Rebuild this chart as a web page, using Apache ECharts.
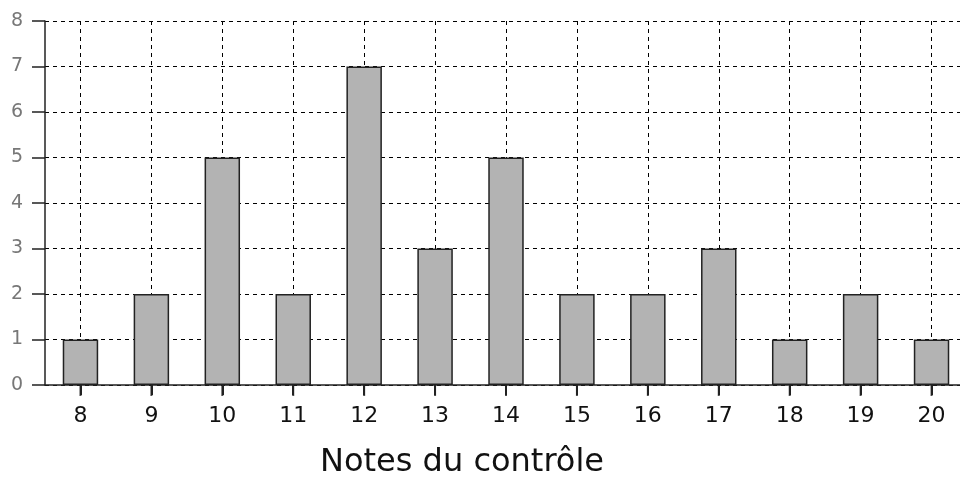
<!DOCTYPE html>
<html style="height: 100%">
<head>
    <meta charset="utf-8">
</head>
<body style="height: 100%; margin: 0; background: #fff">
    <div id="container" style="width: 960px; height: 481px"></div>
    <script type="text/javascript" src="https://cdn.jsdelivr.net/npm/echarts@6/dist/echarts.min.js"></script>
<script type="text/javascript">
    // notes du controle et effectifs
    var notes = ['8', '9', '10', '11', '12', '13', '14', '15', '16', '17', '18', '19', '20'];
    var effectifs = [1, 2, 5, 2, 7, 3, 5, 2, 2, 3, 1, 2, 1];
    var yTicks = [0, 1, 2, 3, 4, 5, 6, 7, 8];

    var myChart = echarts.init(document.getElementById('container'));
    var dash = {color: '#000', width: 1, type: [4, 4]};

    myChart.setOption({
        animation: false,
        textStyle: {fontFamily: 'DejaVu Sans'},
        grid: {left: 45, right: -7, top: 21, bottom: 96, containLabel: false, outerBoundsMode: 'none'},
        xAxis: {
            type: 'category',
            data: notes,
            name: 'Notes du contrôle',
            nameLocation: 'middle',
            nameGap: 62,
            nameTextStyle: {fontSize: 32, color: '#111', padding: [0, 88, 0, 0]},
            axisLine: {show: true, onZero: false, lineStyle: {color: '#222', width: 1.5}},
            axisTick: {show: true, interval: 0, alignWithLabel: true, length: 10, lineStyle: {color: '#222', width: 2}},
            axisLabel: {fontSize: 22, color: '#111', margin: 20},
            splitLine: {show: true, interval: 0, alignWithLabel: true, lineStyle: dash}
        },
        yAxis: {
            type: 'value',
            min: yTicks[0],
            max: yTicks[yTicks.length - 1],
            interval: 1,
            axisLine: {show: true, onZero: false, lineStyle: {color: '#222', width: 1.5}},
            axisTick: {show: true, length: 13, lineStyle: {color: '#222', width: 1.5}},
            axisLabel: {fontSize: 19, color: '#777', margin: 22},
            splitLine: {show: true, lineStyle: dash}
        },
        series: [{
            type: 'bar',
            data: effectifs,
            barWidth: '50%',
            itemStyle: {color: '#b3b3b3', borderColor: '#222', borderWidth: 1.5}
        }, {
            // petites graduations sous l'axe des notes
            type: 'scatter',
            data: notes.map(function () { return 0; }),
            symbol: 'rect',
            symbolSize: [2, 10],
            symbolOffset: [0, 6],
            clip: false,
            silent: true,
            itemStyle: {color: '#222'}
        }]
    });
</script>
</body>
</html>
